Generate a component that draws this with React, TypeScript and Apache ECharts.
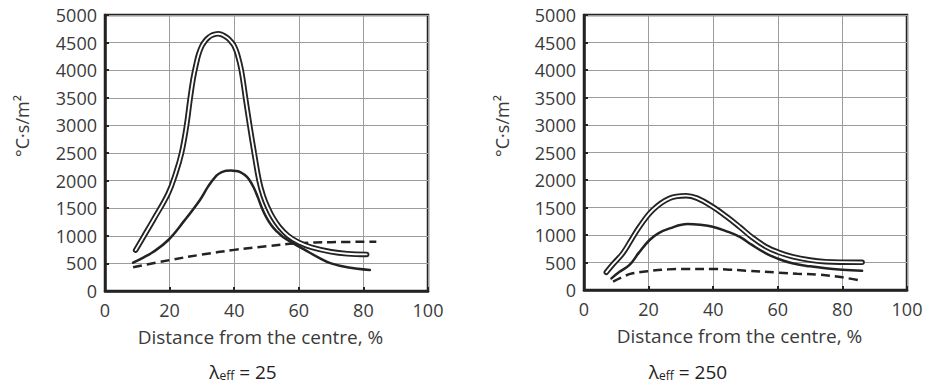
import React, { useEffect, useRef } from "react";
import * as echarts from "echarts";

// Left panel (lambda_eff = 25)
const leftDoubleX = [9.5, 12, 15, 19.6, 22, 23.7, 25.2, 26.3, 27.3, 28.3, 29, 30, 31, 32, 33, 34, 35, 36, 37, 38, 39, 40, 41, 42.2, 43.5, 44.8, 46.2, 47.7, 49, 50.5, 52, 54, 56.7, 60, 64, 70, 75, 81];
const leftDoubleY = [740, 990, 1290, 1770, 2150, 2500, 2980, 3460, 3850, 4130, 4290, 4440, 4530, 4590, 4630, 4650, 4660, 4650, 4620, 4580, 4520, 4440, 4290, 4000, 3500, 3000, 2500, 2000, 1720, 1500, 1330, 1160, 1000, 880, 790, 710, 675, 662];
const leftSolidX = [8.7, 12, 15, 19.6, 24.5, 29.4, 32, 34.5, 36, 37.5, 39, 40.5, 42, 43.3, 44.5, 46, 47.3, 48.6, 50, 51.5, 53, 55.1, 58.7, 62, 66, 70, 75, 82];
const leftSolidY = [513, 610, 710, 924, 1270, 1650, 1900, 2090, 2150, 2180, 2185, 2175, 2150, 2100, 2030, 1880, 1700, 1500, 1330, 1190, 1090, 980, 850, 740, 610, 500, 430, 380];
const leftDashX = [8.7, 20, 30, 40, 50, 60, 70, 84];
const leftDashY = [430, 560, 660, 745, 810, 865, 885, 893];

// Right panel (lambda_eff = 250)
const rightDoubleX = [6.9, 9, 12, 14.5, 17.2, 21.3, 26.5, 31.6, 35, 39.8, 44, 48.1, 52, 56.3, 60, 64.5, 70, 74.8, 80, 86.1];
const rightDoubleY = [321, 470, 667, 900, 1151, 1455, 1667, 1715, 1670, 1515, 1340, 1151, 960, 788, 690, 606, 545, 515, 505, 503];
const rightSolidX = [8.5, 11, 14.1, 17, 20.3, 23, 26.5, 32.1, 36, 39.8, 44, 48.1, 52, 56.3, 60, 64.5, 70, 74.8, 80, 86.1];
const rightSolidY = [212, 330, 455, 680, 909, 1030, 1121, 1200, 1185, 1151, 1070, 970, 820, 667, 570, 485, 430, 394, 370, 352];
const rightDashX = [9, 12, 15.1, 21.3, 26, 31.6, 39.8, 45, 50.1, 60.4, 66, 72.7, 80, 86.1];
const rightDashY = [152, 240, 303, 352, 375, 382, 382, 370, 352, 315, 295, 280, 230, 165];

const xTicks = [0, 20, 40, 60, 80, 100];
const yTicks = [0, 500, 1000, 1500, 2000, 2500, 3000, 3500, 4000, 4500, 5000];
const xAxisTitle = "Distance from the centre, %";
const yAxisTitle = "°C·s/m²";
const panelLambdas = ["25", "250"];

const zip = (xs: number[], ys: number[]) => xs.map((x, i) => [x, ys[i]]);

const INK = "#232323";
const TEXT = "#3a3a3a";
const FONT = "Open Sans";

export default function App() {
  const ref = useRef<HTMLDivElement>(null);
  useEffect(() => {
    document.body.style.margin = "0";
    const chart = echarts.init(ref.current!, undefined, { renderer: "svg" });
    const grids = [
      { left: 105, top: 15, width: 323, height: 276 },
      { left: 584, top: 15, width: 323, height: 275 },
    ];
    const xAxis = grids.map((_, i) => ({
      type: "value",
      gridIndex: i,
      min: xTicks[0],
      max: xTicks[xTicks.length - 1],
      interval: 20,
      name: xAxisTitle,
      nameLocation: "middle",
      nameGap: 36,
      nameTextStyle: { fontFamily: FONT, fontSize: 19, color: TEXT, padding: [0, 12, 0, 0] },
      axisLine: { show: true, lineStyle: { color: INK, width: 2.5 } },
      axisTick: { show: true, inside: true, length: 4, lineStyle: { color: INK, width: 2 } },
      axisLabel: { fontFamily: FONT, fontSize: 18, color: TEXT, margin: 10, formatter: (v: number) => String(v) },
      splitLine: { show: true, lineStyle: { color: "#9c9c9c", width: 1 } },
    }));
    const yAxis = grids.map((_, i) => ({
      type: "value",
      gridIndex: i,
      min: yTicks[0],
      max: yTicks[yTicks.length - 1],
      interval: 500,
      axisLine: { show: true, lineStyle: { color: INK, width: 2.5 } },
      axisTick: { show: true, inside: true, length: 4, lineStyle: { color: INK, width: 2 } },
      axisLabel: { fontFamily: FONT, fontSize: 18, color: TEXT, margin: 8, formatter: (v: number) => String(v) },
      splitLine: { show: true, lineStyle: { color: "#9c9c9c", width: 1 } },
    }));
    const line = (i: number, data: number[][], style: any, z = 2) => ({
      type: "line",
      xAxisIndex: i,
      yAxisIndex: i,
      data,
      smooth: 0.4,
      showSymbol: false,
      symbol: "none",
      z,
      lineStyle: style,
    });
    const panels = [
      { d: zip(leftDoubleX, leftDoubleY), s: zip(leftSolidX, leftSolidY), dash: zip(leftDashX, leftDashY) },
      { d: zip(rightDoubleX, rightDoubleY), s: zip(rightSolidX, rightSolidY), dash: zip(rightDashX, rightDashY) },
    ];
    const series: any[] = [];
    panels.forEach((p, i) => {
      series.push(line(i, p.dash, { color: INK, width: 2.5, type: [9, 5], cap: "butt" }, 2));
      series.push(line(i, p.s, { color: INK, width: 2.5, cap: "round" }, 3));
      series.push(line(i, p.d, { color: INK, width: 5.5, cap: "round" }, 4));
      series.push(line(i, p.d, { color: "#ffffff", width: 1.8, cap: "round" }, 5));
    });
    const graphic: any[] = [];
    [22, 502].forEach((x) =>
      graphic.push({
        type: "text",
        x,
        y: 126,
        rotation: Math.PI / 2,
        style: {
          text: yAxisTitle,
          fontFamily: FONT,
          fontSize: 18,
          fill: TEXT,
          align: "center",
          verticalAlign: "middle",
        },
      })
    );
    [243, 688].forEach((x, i) =>
      graphic.push({
        type: "text",
        x,
        y: 370,
        style: {
          text: `{a|λ}{b|eff}{a| = ${panelLambdas[i]}}`,
          align: "center",
          verticalAlign: "middle",
          rich: {
            a: { fontFamily: FONT, fontSize: 19, fill: "#222", lineHeight: 22, verticalAlign: "bottom" },
            b: { fontFamily: FONT, fontSize: 12, fill: "#222", lineHeight: 22, verticalAlign: "bottom", padding: [8, 0, 0, 0] },
          },
        },
      })
    );
    chart.setOption({
      animation: false,
      backgroundColor: "#ffffff",
      grid: grids.map((g) => ({ ...g, show: true, borderColor: INK, borderWidth: 2.5, backgroundColor: "transparent" })),
      xAxis,
      yAxis,
      series,
      graphic,
    });
    return () => chart.dispose();
  }, []);
  return <div ref={ref} style={{ position: "absolute", left: 0, top: 0, width: 933, height: 385 }} />;
}
